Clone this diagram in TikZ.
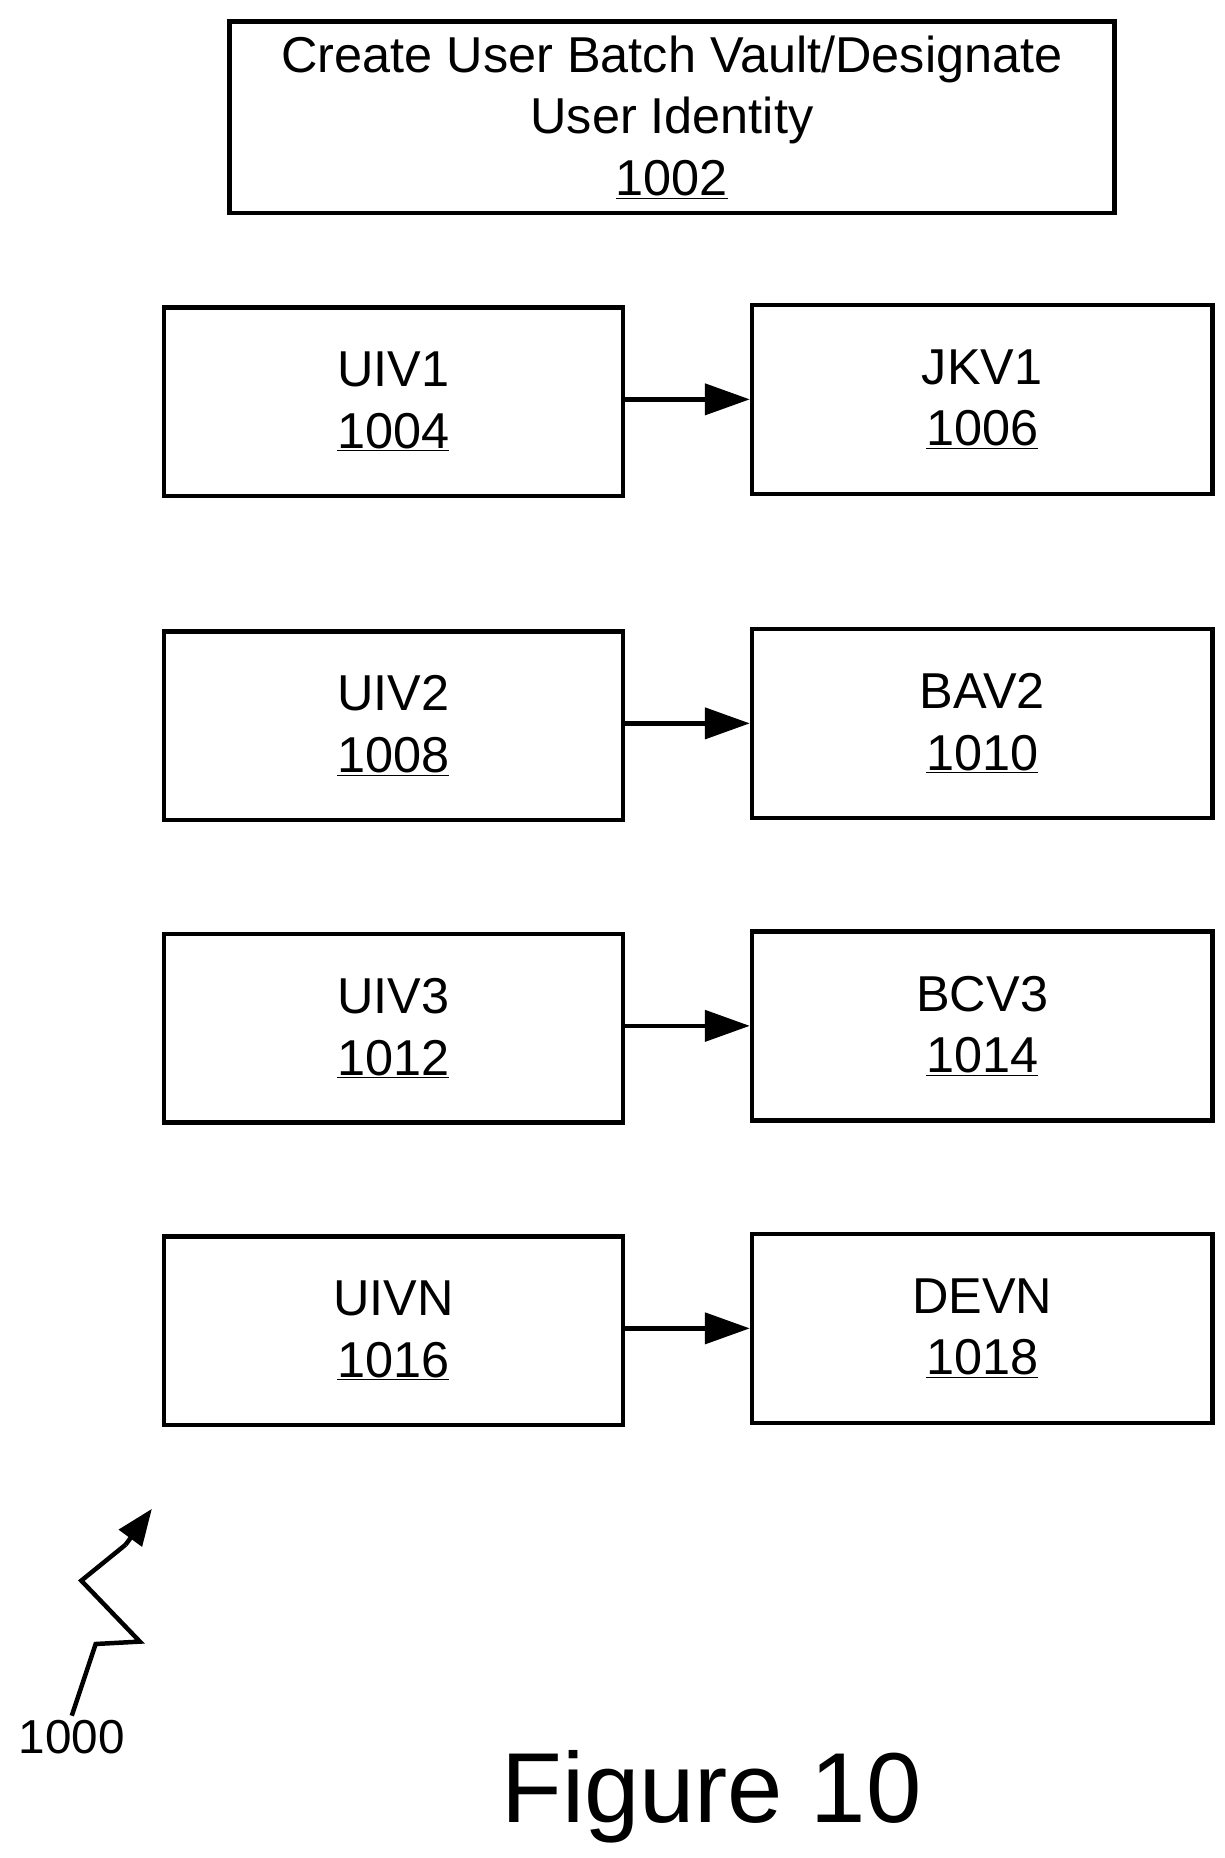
\documentclass[tikz,border=0pt]{standalone}
\usepackage{fontspec}
\setmainfont{Liberation Sans}
\usetikzlibrary{arrows.meta}
\begin{document}
\begin{tikzpicture}[x=0.03cm,y=-0.03cm,
 box/.style={draw,line width=3.2pt,inner sep=0pt,font=\fontsize{36}{44}\selectfont,align=center},
 arr/.style={line width=3.2pt,-{Triangle[length=32pt,width=22pt]}}]
\useasboundingbox (0,0) rectangle (1024,1554);
\node[box,minimum width=740*0.03cm,minimum height=160*0.03cm] (t) at (562,98) {Create User Batch Vault/Designate\\User Identity\\\underline{1002}};
\foreach \n/\ly/\ry/\a/\b/\c/\d in {1/336/334/UIV1/1004/JKV1/1006, 2/607/605/UIV2/1008/BAV2/1010, 3/860/858/UIV3/1012/BCV3/1014, 4/1113/1111/UIVN/1016/DEVN/1018}{
 \node[box,minimum width=384*0.03cm,minimum height=158*0.03cm] (l\n) at (329,\ly) {\a\\\underline{\b}};
 \node[box,minimum width=385*0.03cm,minimum height=158*0.03cm] (r\n) at (821.5,\ry) {\c\\\underline{\d}};
 \draw[arr] (l\n.east |- 0,\ry) -- (r\n.west |- 0,\ry);
}
\coordinate (z0) at (60,1435);
\coordinate (z1) at (80,1375);
\coordinate (z2) at (117,1373);
\coordinate (z3) at (68,1322);
\coordinate (z4) at (105,1292);
\coordinate (z5) at (127,1262);
\draw[line width=3.2pt,line join=miter] (z0) -- (z1) -- (z2) -- (z3) -- (z4);
\draw[arr,-{Triangle[length=26pt,width=20pt]}] (z4) -- (z5);
\node[font=\fontsize{34}{36}\selectfont] (n) at (60,1453) {1000};
\node[font=\fontsize{71}{74}\selectfont] (f) at (595,1503) {Figure 10};
\end{tikzpicture}
\end{document}
